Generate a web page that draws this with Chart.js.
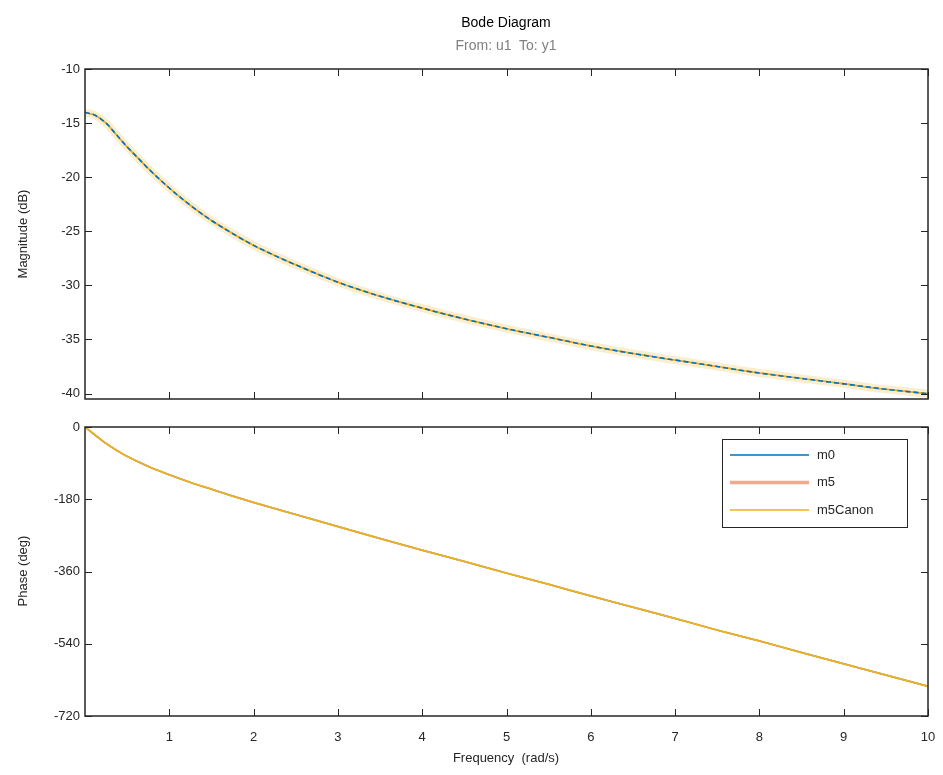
<!DOCTYPE html>
<html>
<head>
<meta charset="utf-8">
<script src="https://cdn.jsdelivr.net/npm/chart.js@4.4.0/dist/chart.umd.min.js"></script>
<style>
  body { margin: 0; background: #fff; font-family: "Liberation Sans", Arial, sans-serif; }
  #wrap { position: relative; width: 943px; height: 775px; }
  .box { position: absolute; left: 0; width: 943px; }
  .t { position: absolute; white-space: nowrap; transform: translate(-50%, -50%); color: #262626; font-size: 13px; }
  .rot { transform: translate(-50%, -50%) rotate(-90deg); }
</style>
</head>
<body>
<div id="wrap">
  <div class="box" style="top:0;height:405px"><canvas id="magChart"></canvas></div>
  <div class="box" style="top:405px;height:370px"><canvas id="phaseChart"></canvas></div>
  <div class="t" style="left:506px;top:22px;font-size:14px;color:#000">Bode Diagram</div>
  <div class="t" style="left:506px;top:45px;font-size:14px;color:#808080">From: u1&nbsp; To: y1</div>
  <div class="t rot" style="left:22px;top:234px">Magnitude (dB)</div>
  <div class="t rot" style="left:22px;top:571px">Phase (deg)</div>
  <div class="t" style="left:506px;top:757px">Frequency&nbsp; (rad/s)</div>
</div>
<script>
// frequency grid (rad/s)
const freq = [0, 0.125, 0.25, 0.375, 0.5, 0.625, 0.75, 1, 1.25, 1.5, 1.75, 2, 2.5,
  3, 3.5, 4, 4.5, 5, 5.5, 6, 6.5, 7, 7.5, 8, 8.5, 9, 9.5, 10];

// magnitude (dB)
const magnitude = [-14.0, -14.3, -15.0, -16.1, -17.2, -18.2, -19.2, -21.0, -22.6,
  -24.0, -25.2, -26.3, -28.1, -29.7, -31.0, -32.1, -33.1, -34.0, -34.8, -35.6,
  -36.3, -36.9, -37.5, -38.1, -38.6, -39.1, -39.6, -40.0];

// phase (deg)
const phase = [0, -21, -41, -58, -73, -86, -98, -119, -138, -155, -172, -188, -218,
  -248, -278, -307, -335, -364, -392, -421, -449, -477, -506, -533, -562, -590,
  -618, -646];

const xTicks = [1, 2, 3, 4, 5, 6, 7, 8, 9, 10];
const magTicks = [-40, -35, -30, -25, -20, -15, -10];
const phaseTicks = [-720, -540, -360, -180, 0];

const legendItems = [
  { label: "m0", color: "#0072BD", width: 1.5 },
  { label: "m5", color: "#EFA98C", width: 3.5 },
  { label: "m5Canon", color: "#EDB120", width: 1.5 },
];

const AXIS = "#262626";
const FONT = { family: "'Liberation Sans', Arial, sans-serif", size: 13 };

function pts(ys) {
  return freq.map((f, i) => ({ x: f, y: ys[i] }));
}

// MATLAB style box with inward ticks on all four sides
const boxPlugin = {
  id: "box",
  afterDraw(chart) {
    const { ctx, chartArea: a, scales } = chart;
    const yTicks = chart.options.plugins.box.yTicks;
    ctx.save();
    ctx.strokeStyle = AXIS;
    ctx.lineWidth = 1;
    ctx.beginPath();
    xTicks.forEach((v) => {
      const px = Math.round(scales.x.getPixelForValue(v)) + 0.5;
      ctx.moveTo(px, a.bottom); ctx.lineTo(px, a.bottom - 7);
      ctx.moveTo(px, a.top); ctx.lineTo(px, a.top + 7);
    });
    yTicks.forEach((v) => {
      const py = Math.round(scales.y.getPixelForValue(v)) + 0.5;
      ctx.moveTo(a.left, py); ctx.lineTo(a.left + 7, py);
      ctx.moveTo(a.right, py); ctx.lineTo(a.right - 7, py);
    });
    ctx.stroke();
    ctx.lineWidth = 1.5;
    ctx.strokeRect(a.left, a.top, a.right - a.left, a.bottom - a.top);
    ctx.restore();
  },
};

// legend drawn in the upper right of the phase axes
const legendPlugin = {
  id: "boxLegend",
  afterDraw(chart) {
    if (!chart.options.plugins.boxLegend.show) return;
    const { ctx, chartArea: a } = chart;
    const x0 = a.right - 206, y0 = a.top + 12;
    ctx.save();
    ctx.fillStyle = "#fff";
    ctx.fillRect(x0, y0, 185, 88);
    ctx.strokeStyle = AXIS;
    ctx.lineWidth = 1;
    ctx.strokeRect(x0 + 0.5, y0 + 0.5, 185, 88);
    ctx.font = "13px 'Liberation Sans', Arial, sans-serif";
    ctx.textBaseline = "middle";
    legendItems.forEach((item, i) => {
      const yy = y0 + 16 + i * 27.5;
      ctx.strokeStyle = item.color;
      ctx.lineWidth = item.width;
      ctx.beginPath();
      ctx.moveTo(x0 + 8, yy);
      ctx.lineTo(x0 + 87, yy);
      ctx.stroke();
      ctx.fillStyle = AXIS;
      ctx.fillText(item.label, x0 + 95, yy);
    });
    ctx.restore();
  },
};

function makeChart(id, datasets, yMin, yMax, yTicks, opts) {
  return new Chart(document.getElementById(id), {
    type: "line",
    data: { datasets: datasets },
    options: {
      responsive: true,
      maintainAspectRatio: false,
      animation: false,
      layout: { padding: opts.padding },
      elements: { point: { radius: 0 }, line: { cubicInterpolationMode: "monotone" } },
      scales: {
        x: {
          type: "linear",
          min: 0,
          max: 10,
          afterBuildTicks: (s) => { s.ticks = xTicks.map((v) => ({ value: v })); },
          afterFit: (s) => { s.height = opts.xHeight; s.paddingLeft = 0; s.paddingRight = 0; },
          grid: { display: false, drawTicks: false },
          border: { display: false },
          ticks: { display: opts.xLabels, color: AXIS, font: FONT, padding: 14, maxRotation: 0, autoSkip: false },
        },
        y: {
          min: yMin,
          max: yMax,
          afterBuildTicks: (s) => { s.ticks = yTicks.map((v) => ({ value: v })); },
          afterFit: (s) => { s.width = 85; s.paddingTop = 0; s.paddingBottom = 0; },
          grid: { display: false, drawTicks: false },
          border: { display: false },
          ticks: { color: AXIS, font: FONT, padding: 5, autoSkip: false },
        },
      },
      plugins: {
        legend: { display: false },
        tooltip: { enabled: false },
        box: { yTicks: yTicks },
        boxLegend: { show: opts.legend },
      },
    },
    plugins: [boxPlugin, legendPlugin],
  });
}

makeChart("magChart", [
  { label: "m0", data: pts(magnitude), borderColor: "#0072BD", borderWidth: 1.6, borderDash: [5, 3], order: 0 },
  { label: "m5Canon", data: pts(magnitude), borderColor: "#EDB120", borderWidth: 1.6, order: 1 },
  { label: "m5", data: pts(magnitude), borderColor: "#EFA98C", borderWidth: 1.5, order: 2 },
  { label: "", data: pts(magnitude), borderColor: "rgba(237,177,32,0.22)", borderWidth: 8, order: 3 },
], -40.5, -10, magTicks, { padding: { top: 69, bottom: 6, right: 15, left: 0 }, xHeight: 0, xLabels: false, legend: false });

makeChart("phaseChart", [
  { label: "m5Canon", data: pts(phase), borderColor: "#EDB120", borderWidth: 1.8, order: 0 },
  { label: "m5", data: pts(phase), borderColor: "#EFA98C", borderWidth: 1.5, order: 1 },
  { label: "m0", data: pts(phase), borderColor: "#0072BD", borderWidth: 1.5, order: 2 },
], -720, 0, phaseTicks, { padding: { top: 22, bottom: 0, right: 15, left: 0 }, xHeight: 59, xLabels: true, legend: true });
</script>
</body>
</html>
